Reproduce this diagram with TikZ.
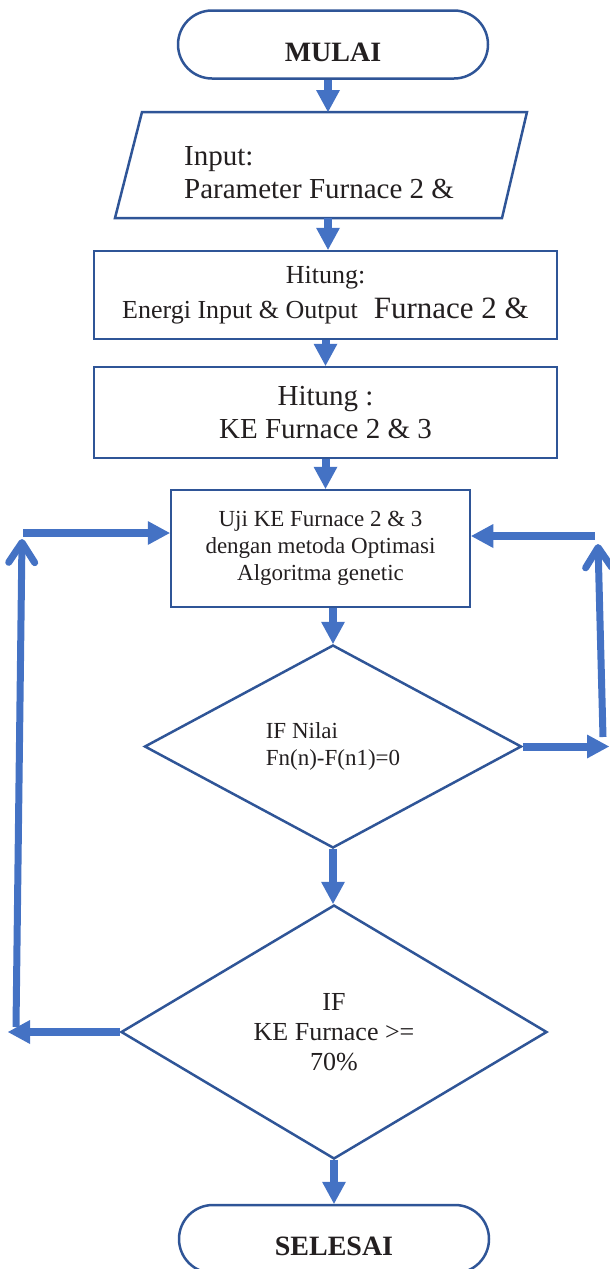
\documentclass[tikz,border=0pt]{standalone}
\usepackage{fontspec}
\setmainfont{Liberation Serif}
\usetikzlibrary{arrows.meta,shapes.geometric,calc}
\definecolor{boxc}{RGB}{47,85,151}
\definecolor{arrc}{RGB}{68,114,196}
\definecolor{txtc}{RGB}{35,31,32}
\begin{document}
\begin{tikzpicture}[x=1pt,y=-1pt,
  every node/.style={text=txtc},
  box/.style={draw=boxc, line width=2.5pt, rectangle, inner sep=0pt, align=center},
  term/.style={draw=boxc, line width=2.5pt, rectangle, rounded corners=34pt,
    minimum width=310pt, minimum height=68pt, inner sep=0pt,
    font=\fontsize{28}{33}\selectfont\bfseries, text height=33pt, text depth=0pt},
  dec/.style={draw=boxc, line width=2.5pt, diamond, inner sep=0pt, align=center},
  arr/.style={draw=arrc, line width=8pt, -{Triangle[length=22pt,width=24pt,line width=0pt]}},
  back/.style={draw=arrc, line width=7pt, -{Straight Barb[round,length=20pt,width=26pt]}},
]
\useasboundingbox (0,0) rectangle (610,1269);
\clip (0,0) rectangle (610,1269);

% start
\node[term] (mulai) at (333,44.5) {MULAI};

% input parallelogram
\coordinate (pa) at (142,112);
\coordinate (pb) at (527,112);
\coordinate (pc) at (502,218);
\coordinate (pd) at (115,218);
\coordinate (intop) at (328,112);
\coordinate (inbot) at (328,218);
\draw[draw=boxc, line width=2.5pt] (pa) -- (pb) -- (pc) -- (pd) -- cycle;
\node[anchor=west, inner sep=0pt, align=left, font=\fontsize{29}{33}\selectfont] (inp) at (184,173) {Input:\\Parameter Furnace 2 \&};

% process boxes
\node[box, minimum width=463pt, minimum height=88pt, font=\fontsize{26}{35}\selectfont] (h1) at (325.5,295)
  {Hitung:\\Energi Input \& Output\hspace{16pt}{\fontsize{31}{35}\selectfont Furnace 2 \&}};
\node[box, minimum width=463pt, minimum height=91pt, font=\fontsize{29}{33}\selectfont] (h2) at (325.5,412.5)
  {Hitung :\\KE Furnace 2 \& 3};
\node[box, minimum width=299pt, minimum height=117pt, font=\fontsize{23}{27}\selectfont] (uji) at (320.5,548.5)
  {Uji KE Furnace 2 \& 3\\dengan metoda Optimasi\\Algoritma genetic};

% decisions
\node[dec, minimum width=377pt, minimum height=203pt, font=\fontsize{23}{27}\selectfont, align=left] (d1) at (333,746.5)
  {IF Nilai\\Fn(n)-F(n1)=0};
\node[dec, minimum width=426pt, minimum height=254pt, font=\fontsize{26}{30}\selectfont] (d2) at (334,1032)
  {IF\\KE Furnace >=\\70\%};

% end
\node[term] (selesai) at (334,1239) {SELESAI};

% main flow
\draw[arr] (mulai.south -| intop) -- (intop);
\draw[arr] (inbot) -- (inbot |- h1.north);
\draw[arr] (h1.south) -- (h2.north);
\draw[arr] (h2.south) -- (h2.south |- uji.north);
\draw[arr] (uji.south -| d1.north) -- (d1.north);
\draw[arr] (d1.south) -- (d1.south |- d2.north);
\draw[arr] (d2.south) -- (d2.south |- selesai.north);

% right loop
\coordinate (r1) at (609,745);
\coordinate (r2) at (603,737);
\coordinate (r3) at (598,544);
\coordinate (r4) at (595,536);
\draw[arr] (d1.east) -- (d1.east -| r1);
\draw[back] (r2) -- (r3);
\draw[arr] (r4) -- (r4 -| uji.east);

% left loop
\coordinate (l1) at (8,1029);
\coordinate (l2) at (16,1027);
\coordinate (l3) at (22,539);
\coordinate (l4) at (23,533);
\draw[arr] (d2.west) -- (d2.west -| l1);
\draw[back] (l2) -- (l3);
\draw[arr] (l4) -- (l4 -| uji.west);
\end{tikzpicture}
\end{document}
